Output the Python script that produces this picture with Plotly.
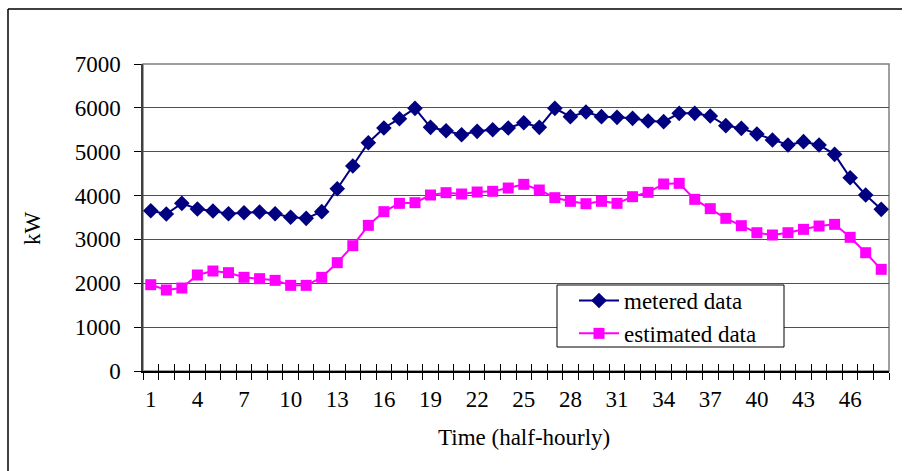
import plotly.graph_objects as go

periods = list(range(1, 49))
metered = [3655, 3579, 3823, 3693, 3648, 3587, 3610, 3625, 3587, 3504, 3481, 3633,
           4157, 4674, 5206, 5541, 5753, 5989, 5556, 5479, 5388, 5464, 5502, 5541,
           5662, 5556, 5989, 5799, 5905, 5799, 5784, 5761, 5700, 5685, 5875, 5875,
           5814, 5594, 5533, 5404, 5267, 5153, 5229, 5153, 4940, 4408, 4013, 3686]
estimated = [1968, 1847, 1892, 2189, 2280, 2242, 2136, 2105, 2067, 1953, 1953, 2136,
             2470, 2857, 3321, 3633, 3823, 3838, 4013, 4066, 4036, 4081, 4097, 4172,
             4256, 4127, 3952, 3869, 3815, 3869, 3823, 3974, 4074, 4264, 4279, 3914,
             3701, 3481, 3313, 3153, 3101, 3153, 3230, 3306, 3344, 3048, 2697, 2318]
x_tick_labels = list(range(1, 49, 3))
y_ticks = list(range(0, 7001, 1000))

FONT = "Liberation Serif"
FS = 23

# plot-area pixel geometry
L, R, T, B = 143, 889, 64, 371
W, H = 906, 471
pw, ph = R - L, B - T


def px(x):
    return (x - L) / pw


def py(y):
    return (B - y) / ph


fig = go.Figure()
fig.add_trace(go.Scatter(
    x=periods, y=metered, name="metered data", mode="lines+markers",
    line=dict(color="#000080", width=2),
    marker=dict(symbol="diamond", size=12, color="#000080"),
))
fig.add_trace(go.Scatter(
    x=periods, y=estimated, name="estimated data", mode="lines+markers",
    line=dict(color="#FF00FF", width=2),
    marker=dict(symbol="square", size=11, color="#FF00FF"),
))
# dummy trace for the overlay axis carrying inside tick marks
fig.add_trace(go.Scatter(x=[], y=[], xaxis="x2", showlegend=False, hoverinfo="skip"))

shapes = [
    dict(type="rect", xref="paper", yref="paper", x0=0, x1=1, y0=0, y1=1,
         line=dict(color="#808080", width=1.5), layer="below"),
    # legend box
    dict(type="rect", xref="paper", yref="paper", x0=px(557), x1=px(784), y0=py(285), y1=py(347),
         line=dict(color="black", width=1), fillcolor="white", layer="above"),
    # outer frame: top and left lines
    dict(type="line", xref="paper", yref="paper", x0=px(8), x1=px(902), y0=py(9), y1=py(9),
         line=dict(color="black", width=1.5)),
    dict(type="line", xref="paper", yref="paper", x0=px(8), x1=px(8), y0=py(9), y1=py(480),
         line=dict(color="black", width=1.5)),
]

fig.update_layout(
    width=W, height=H,
    margin=dict(l=L, r=W - R, t=T, b=H - B),
    paper_bgcolor="white", plot_bgcolor="white",
    font=dict(family=FONT, size=FS, color="black"),
    showlegend=True,
    legend=dict(
        x=px(574), y=py(279), xanchor="left", yanchor="top",
        bgcolor="rgba(0,0,0,0)", borderwidth=0,
        font=dict(family=FONT, size=FS, color="black"),
        tracegroupgap=0, itemwidth=40,
    ),
    xaxis=dict(
        range=[0.5, 48.5], tickmode="array", tickvals=x_tick_labels,
        ticktext=[str(v) for v in x_tick_labels],
        ticks="", showgrid=False, zeroline=False,
        showline=True, linecolor="black", linewidth=1.5,
        ticklabelstandoff=7,
        minor=dict(tick0=0.5, dtick=1, ticks="outside", ticklen=7,
                   tickcolor="black", tickwidth=1, showgrid=False),
        tickfont=dict(family=FONT, size=FS, color="black"),
    ),
    xaxis2=dict(
        range=[0.5, 48.5], overlaying="x", anchor="y", side="bottom",
        tickmode="linear", tick0=0.5, dtick=1, ticks="inside", ticklen=7,
        tickcolor="black", tickwidth=1, showticklabels=False,
        showgrid=False, zeroline=False, showline=False,
    ),
    yaxis=dict(
        range=[0, 7000], tickmode="array", tickvals=y_ticks,
        ticks="outside", ticklen=7, tickcolor="black", tickwidth=1,
        showgrid=True, gridcolor="#505050", gridwidth=1,
        zeroline=False, showline=True, linecolor="#404040", linewidth=1.5,
        ticklabelstandoff=9,
        tickfont=dict(family=FONT, size=FS, color="black"),
    ),
    shapes=shapes,
    annotations=[
        dict(text="kW", xref="paper", yref="paper", x=px(32), y=py(228),
             showarrow=False, textangle=-90, xanchor="center", yanchor="middle",
             font=dict(family=FONT, size=FS, color="black")),
        dict(text="Time (half-hourly)", xref="paper", yref="paper", x=px(524), y=py(437),
             showarrow=False, xanchor="center", yanchor="middle",
             font=dict(family=FONT, size=FS, color="black")),
    ],
)

fig.write_html("out.html")
